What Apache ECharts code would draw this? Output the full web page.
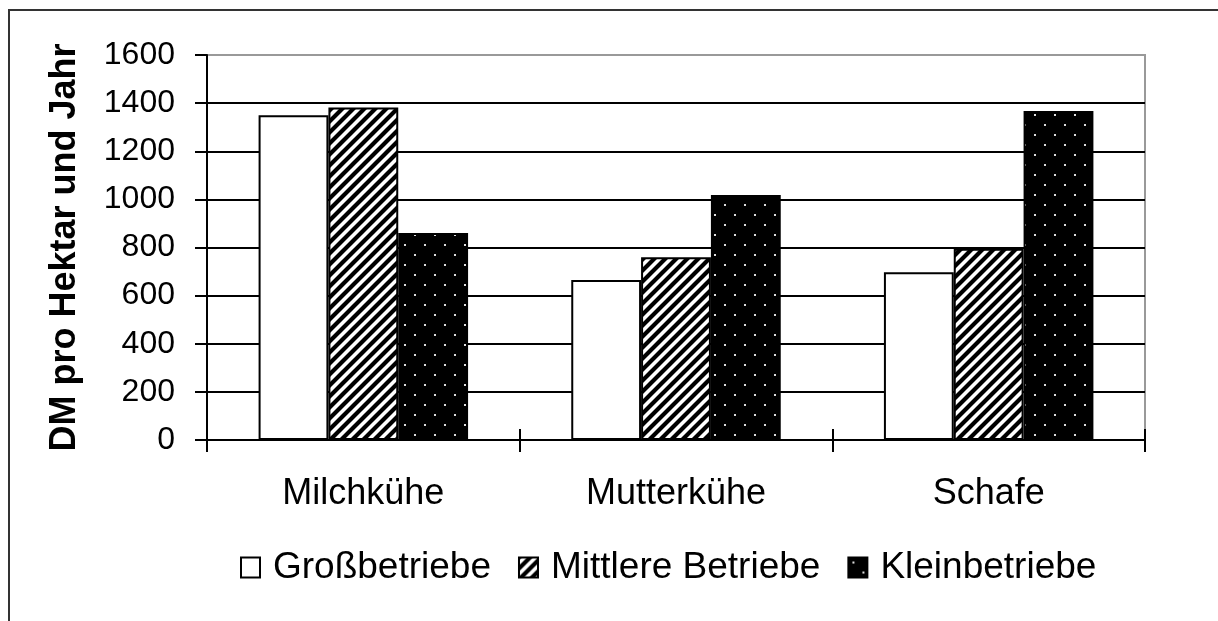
<!DOCTYPE html>
<html>
<head>
<meta charset="utf-8">
<script src="https://cdn.jsdelivr.net/npm/echarts@6/dist/echarts.min.js"></script>
<style>
    html, body { margin: 0; padding: 0; background: #fff; }
    #chart { width: 1218px; height: 621px; }
</style>
</head>
<body>
<div id="chart"></div>
<script>
{
    // Daten
    const categories = ['Milchkühe', 'Mutterkühe', 'Schafe'];
    const seriesNames = ['Großbetriebe', 'Mittlere Betriebe', 'Kleinbetriebe'];
    const grossValues = [1350, 665, 697];
    const mittelValues = [1382, 760, 795];
    const kleinValues = [860, 1018, 1367];
    const yTicks = [0, 200, 400, 600, 800, 1000, 1200, 1400, 1600];

    const font = '"Liberation Sans", Arial, sans-serif';

    // Schraffur "/" schwarz auf weiss
    function makeHatch() {
        const s = 11;
        const c = document.createElement('canvas');
        c.width = s; c.height = s;
        const ctx = c.getContext('2d');
        ctx.fillStyle = '#fff';
        ctx.fillRect(0, 0, s, s);
        ctx.strokeStyle = '#000';
        ctx.lineWidth = 4.2;
        ctx.beginPath();
        ctx.moveTo(-2, s + 2); ctx.lineTo(s + 2, -2);
        ctx.moveTo(-2, 2); ctx.lineTo(2, -2);
        ctx.moveTo(s - 2, s + 2); ctx.lineTo(s + 2, s - 2);
        ctx.stroke();
        return c;
    }

    // weisse Punkte auf schwarz
    function makeDots() {
        const s = 20;
        const c = document.createElement('canvas');
        c.width = s; c.height = s;
        const ctx = c.getContext('2d');
        ctx.fillStyle = '#000';
        ctx.fillRect(0, 0, s, s);
        ctx.fillStyle = '#ddd';
        ctx.fillRect(4, 4, 2, 2);
        ctx.fillRect(14, 14, 2, 2);
        return c;
    }

    const hatch = { image: makeHatch(), repeat: 'repeat' };
    const dots = { image: makeDots(), repeat: 'repeat' };

    const gridColors = yTicks.map((v, i) => i === yTicks.length - 1 ? '#999' : '#000');

    function barSeries(name, data, fill) {
        return {
            name: name,
            type: 'bar',
            data: data,
            barGap: '0%',
            barCategoryGap: '33%',
            itemStyle: {
                color: fill,
                borderColor: '#000',
                borderWidth: 2
            },
            emphasis: { disabled: true }
        };
    }

    const option = {
        animation: false,
        backgroundColor: '#fff',
        grid: {
            left: 207,
            right: 73,
            top: 55,
            bottom: 181,
            show: true,
            borderColor: '#999',
            borderWidth: 2,
            backgroundColor: 'transparent'
        },
        legend: {
            left: 235,
            top: 544,
            itemWidth: 19,
            itemHeight: 20,
            itemGap: 27,
            icon: 'rect',
            data: seriesNames,
            selectedMode: false,
            textStyle: {
                fontFamily: font,
                fontSize: 37,
                color: '#000',
                padding: [0, 0, 0, 8]
            }
        },
        xAxis: [{
            type: 'category',
            data: categories,
            axisLine: { lineStyle: { color: '#000', width: 2 } },
            axisTick: { show: true, length: 12, lineStyle: { color: '#000', width: 2 } },
            axisLabel: {
                margin: 36,
                fontFamily: font,
                fontSize: 36,
                color: '#000'
            },
            splitLine: { show: false }
        }, {
            type: 'category',
            data: categories,
            position: 'bottom',
            axisLine: { show: false },
            axisTick: { show: true, inside: true, length: 11, lineStyle: { color: '#000', width: 2 } },
            axisLabel: { show: false },
            splitLine: { show: false }
        }],
        yAxis: {
            type: 'value',
            min: 0,
            max: 1600,
            interval: 200,
            name: 'DM pro Hektar und Jahr',
            nameLocation: 'middle',
            nameGap: 124,
            nameTextStyle: {
                fontFamily: font,
                fontSize: 36,
                fontWeight: 'bold',
                color: '#000'
            },
            axisLine: { show: true, lineStyle: { color: '#000', width: 2 } },
            axisTick: { show: true, length: 12, lineStyle: { color: '#000', width: 2 } },
            axisLabel: {
                margin: 32,
                fontFamily: font,
                fontSize: 32,
                color: '#000',
                formatter: function (v) { return String(v); }
            },
            splitLine: { show: true, lineStyle: { color: gridColors, width: 2 } }
        },
        series: [
            barSeries(seriesNames[0], grossValues, '#fff'),
            barSeries(seriesNames[1], mittelValues, hatch),
            barSeries(seriesNames[2], kleinValues, dots)
        ],
        graphic: [{
            type: 'rect',
            shape: { x: 9, y: 10, width: 1240, height: 640 },
            style: { fill: 'none', stroke: '#333', lineWidth: 2 },
            silent: true
        }]
    };

    echarts.init(document.getElementById('chart')).setOption(option);
}
</script>
</body>
</html>
